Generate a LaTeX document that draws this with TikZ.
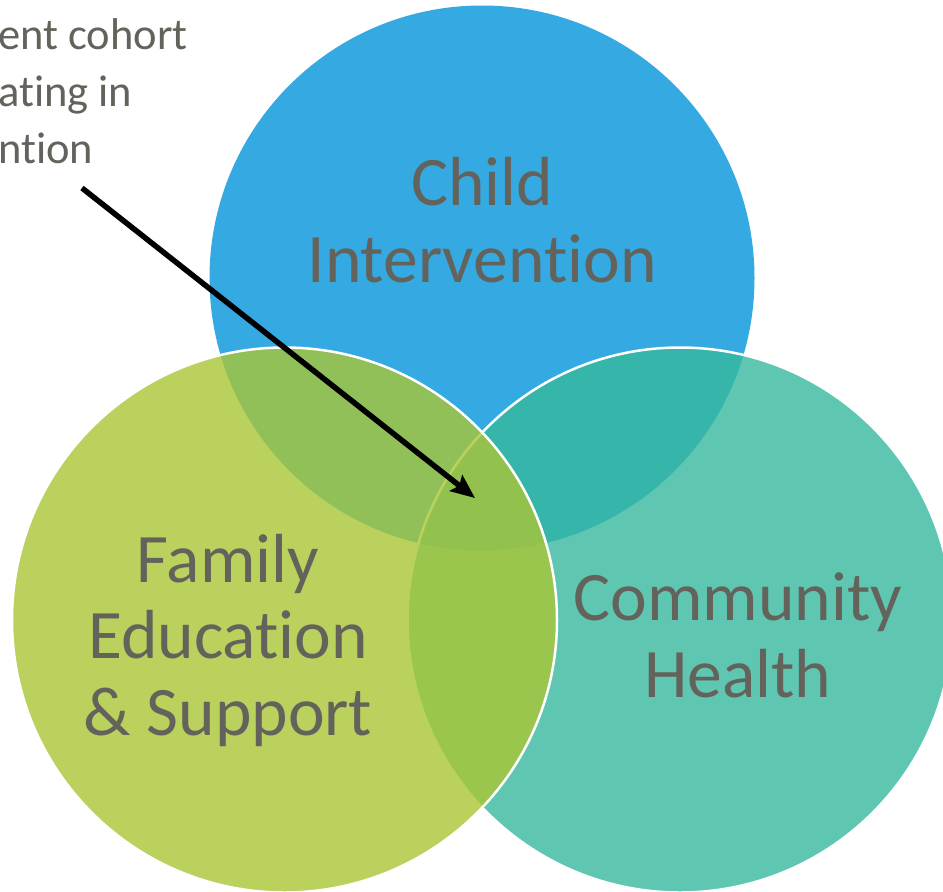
\documentclass[tikz,border=0pt]{standalone}
\usepackage{fontspec}
\setmainfont{Carlito}[RawFeature={-liga}]
\usepackage{xcolor}
\usetikzlibrary{arrows.meta}

\definecolor{childblue}{RGB}{53,169,225}
\definecolor{healthteal}{RGB}{55,184,158}
\definecolor{familygreen}{RGB}{170,198,54}
\definecolor{labelgray}{RGB}{99,99,91}

\tikzset{
  bigtext/.style={text=labelgray, align=center, anchor=base,
    font=\fontsize{69.5}{76.5}\selectfont},
  notetext/.style={text=labelgray, align=left, anchor=base west, inner sep=0pt,
    font=\fontsize{44.5}{57}\selectfont},
  ring/.style={draw=white, line width=2.5pt, fill opacity=0.8}
}

\begin{document}
\begin{tikzpicture}[x=1pt,y=-1pt]
                \useasboundingbox (0,0) rectangle (943,892);
                \clip (0,0) rectangle (943,892);
                \fill[white] (0,0) rectangle (943,892);
                % circles
                \fill[childblue] (482,278) circle (272.5);
                \draw[ring, fill=healthteal] (680,620) circle (272.5);
                \draw[ring, fill=familygreen] (284.5,620) circle (272.5);
                % labels (placed at the baseline of their last line)
                \node[bigtext] (child) at (482,282) {Child\\Intervention};
                \node[bigtext] (family) at (228,735) {Family\\Education\\\& Support};
                \node[bigtext] (health) at (738,697) {Community\\Health};
                \node[notetext] (note) at (-2,163) {ent cohort\\ating in\\ntion};
                % arrow
                \coordinate (tail) at (82,188);
                \coordinate (tip) at (475,498);
                \draw[line width=5.5pt, -{Stealth[length=24pt,width=20pt,inset=4pt]}] (tail) -- (tip);
            \end{tikzpicture}
\end{document}
